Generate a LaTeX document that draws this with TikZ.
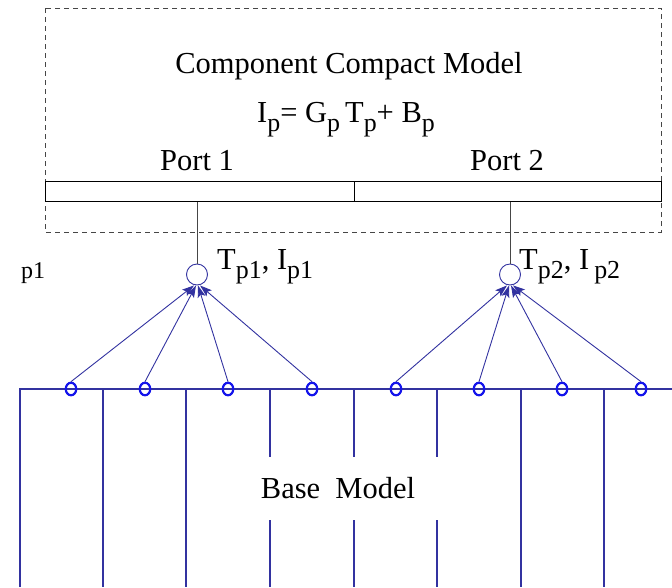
\documentclass[tikz,border=0pt]{standalone}
\usepackage{fontspec}
\usepackage{graphicx}
\setmainfont{Liberation Serif}
\usetikzlibrary{arrows.meta,shapes.geometric}
\definecolor{lineblue}{RGB}{50,50,160}
\definecolor{brightblue}{RGB}{20,20,235}
\definecolor{darkgray}{RGB}{70,70,70}
\newcommand\mysub[1]{\raisebox{-.3em}{\scalebox{0.85}{#1}}}
\tikzset{
  txt/.style={anchor=base, inner sep=0pt, font=\fontsize{30.5}{36}\selectfont},
  smalltxt/.style={anchor=base, inner sep=0pt, font=\fontsize{24}{28}\selectfont},
  portbox/.style={draw=black, line width=1pt, minimum height=20pt, inner sep=0pt},
  bigcirc/.style={draw=lineblue, circle, line width=0.9pt, minimum size=21pt, inner sep=0pt},
  smallcirc/.style={draw=brightblue, ellipse, line width=2.2pt, minimum width=10.5pt, minimum height=12.5pt, inner sep=0pt},
  arr/.style={draw=lineblue, line width=0.9pt, -{Stealth[length=12pt,width=8pt,inset=2.5pt]}},
  baseline/.style={draw=lineblue, line width=1.6pt},
  conn/.style={draw=darkgray, line width=1pt},
  dashbox/.style={draw=darkgray, line width=0.8pt, dash pattern=on 5pt off 4pt}
}
\begin{document}
\begin{tikzpicture}[x=1pt,y=-1pt]
\useasboundingbox (0,0) rectangle (672,587);
% dashed compact model box
\draw[dashbox] (45,8) rectangle (661,232);
\node[txt] (title) at (349,73) {Component Compact Model};
\node[txt] (eq) at (346,122) {I\mysub{p}= G\mysub{p}\,T\mysub{p}+ B\mysub{p}};
\node[txt] (port1) at (197,170) {Port 1};
\node[txt] (port2) at (507,170) {Port 2};
% port bar
\node[portbox, minimum width=309pt] (pa) at (199.5,191) {};
\node[portbox, minimum width=307pt] (pb) at (507.5,191) {};
% big circles
\node[bigcirc] (c1) at (197,274.5) {};
\node[bigcirc] (c2) at (510,274.5) {};
\draw[conn] (c1.north) -- (c1.north |- pa.south);
\draw[conn] (c2.north) -- (c2.north |- pb.south);
\node[txt, anchor=base west] (l1) at (217,269) {T\mysub{p1}, I\mysub{p1}};
\node[txt, anchor=base west] (l2) at (519,269) {T\mysub{p2}, I\,\mysub{p2}};
\node[smalltxt] (p1) at (33,278) {p1};
% base model
\draw[baseline] (20,587) -- (20,389) -- (672,389);
\draw[baseline] (103,389) -- (103,587);
\draw[baseline] (186,389) -- (186,587);
\draw[baseline] (270,389) -- (270,457);
\draw[baseline] (270,520) -- (270,587);
\draw[baseline] (354,389) -- (354,457);
\draw[baseline] (354,520) -- (354,587);
\draw[baseline] (437,389) -- (437,457);
\draw[baseline] (437,520) -- (437,587);
\draw[baseline] (521,389) -- (521,587);
\draw[baseline] (604,389) -- (604,587);
\node[txt] (base) at (338,498) {Base\ \ Model};
% small circles
\node[smallcirc] (s1) at (71,389) {};
\node[smallcirc] (s2) at (145,389) {};
\node[smallcirc] (s3) at (228,389) {};
\node[smallcirc] (s4) at (312,389) {};
\node[smallcirc] (s5) at (396,389) {};
\node[smallcirc] (s6) at (479,389) {};
\node[smallcirc] (s7) at (562,389) {};
\node[smallcirc] (s8) at (641,389) {};
% arrows
\draw[arr] (s1.north) -- ([xshift=-3pt]c1.south);
\draw[arr] (s2.north) -- ([xshift=-1pt]c1.south);
\draw[arr] (s3.north) -- ([xshift=1pt]c1.south);
\draw[arr] (s4.north) -- ([xshift=3pt]c1.south);
\draw[arr] (s5.north) -- ([xshift=-3pt]c2.south);
\draw[arr] (s6.north) -- ([xshift=-1pt]c2.south);
\draw[arr] (s7.north) -- ([xshift=1pt]c2.south);
\draw[arr] (s8.north) -- ([xshift=3pt]c2.south);
\end{tikzpicture}
\end{document}
